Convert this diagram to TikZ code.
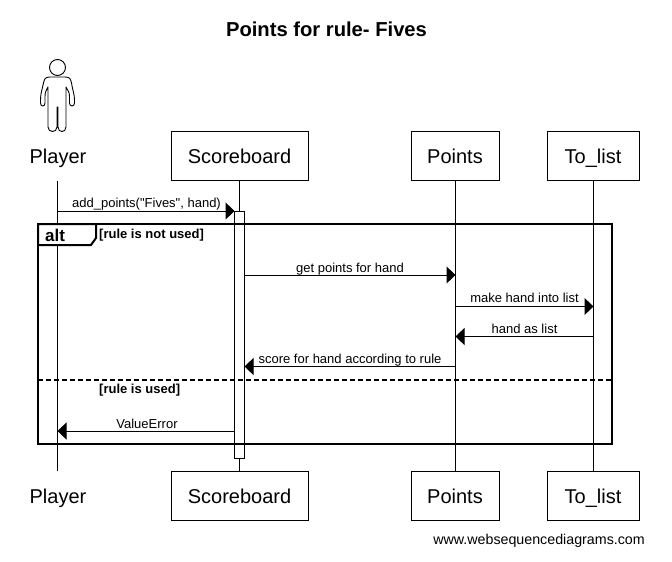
\documentclass[tikz,border=0pt]{standalone}
\usepackage{fontspec}
\setmainfont{Liberation Sans}
\newfontfamily\plainfont{Liberation Sans}
\usetikzlibrary{arrows.meta}
\tikzset{
  actorbox/.style={draw=black,line width=1pt,fill=white,minimum height=49pt,inner sep=0pt,text height=17pt,text depth=2pt,font=\fontsize{20}{24}\selectfont},
  actorname/.style={inner sep=0pt,text height=17pt,text depth=2pt,font=\fontsize{20}{24}\selectfont},
  lifeline/.style={draw=black,line width=1pt},
  msg/.style={draw=black,line width=1pt,-{Triangle[length=9pt,width=17pt]},shorten >=0pt},
  msglabel/.style={inner sep=0pt,anchor=base,font=\fontsize{13}{15}\selectfont},
  guardlabel/.style={inner sep=0pt,anchor=base west,font=\fontsize{13}{15}\selectfont\bfseries},
  activation/.style={draw=black,line width=1pt,fill=white,minimum width=10pt,inner sep=0pt},
  framebox/.style={draw=black,line width=2pt}
}
\begin{document}
\begin{tikzpicture}[x=1pt,y=-1pt]
\useasboundingbox (0,0) rectangle (672,562);
\node[inner sep=0pt,font=\fontsize{20.2}{24}\selectfont\bfseries] (title) at (326.5,29) {Points for rule- Fives};
% actors, top
\node[actorname] (pT) at (58,155.5) {Player};
\node[actorbox,minimum width=137pt] (sT) at (239.5,155.5) {Scoreboard};
\node[actorbox,minimum width=88pt] (oT) at (455,155.5) {Points};
\node[actorbox,minimum width=92pt] (lT) at (593,155.5) {To\_list};
% actors, bottom
\node[actorname] (pB) at (58,495.5) {Player};
\node[actorbox,minimum width=137pt] (sB) at (239.5,495.5) {Scoreboard};
\node[actorbox,minimum width=88pt] (oB) at (455,495.5) {Points};
\node[actorbox,minimum width=92pt] (lB) at (593,495.5) {To\_list};
% lifelines
\coordinate (pL1) at (57.5,181);
\coordinate (pL2) at (57.5,471);
\draw[lifeline] (pL1) -- (pL2);
\draw[lifeline] (sT.south) -- (sB.north);
\draw[lifeline] (oT.south) -- (oB.north);
\draw[lifeline] (lT.south) -- (lB.north);
% stick figure
\draw[black,line width=0.9pt,fill=white] (57.5,67.5) circle (8pt);
\draw[black,line width=0.9pt,line join=round]
  (50,77) .. controls (45,77) and (44.5,79) .. (43.5,83)
  .. controls (42,90) and (40.5,94) .. (40.5,100)
  -- (40.5,103) .. controls (40.5,107) and (45,107) .. (45,103)
  -- (45,96) .. controls (45,92) and (46.5,90) .. (48,87)
  -- (48,127) .. controls (48,133) and (57,133) .. (57,127)
  -- (57,107) -- (58,107) -- (58,127)
  .. controls (58,133) and (66,133) .. (66,127)
  -- (66,87) .. controls (67.5,90) and (69.5,92) .. (69.5,96)
  -- (69.5,103) .. controls (69.5,107) and (74.5,107) .. (74.5,103)
  -- (74.5,100) .. controls (74.5,94) and (72.5,90) .. (71.5,83)
  .. controls (70.5,79) and (70,77) .. (65,77) -- cycle;
% activation
\node[activation,minimum height=247pt] (act) at (239.5,334.5) {};
% alt frame
\node[inner sep=0pt,minimum width=0pt] (fA) at (38,224) {};
\node[inner sep=0pt,minimum width=0pt] (fB) at (612,444) {};
\draw[framebox] (fA.center) rectangle (fB.center);
\coordinate (tab1) at (96,224);
\coordinate (tab2) at (96,238);
\coordinate (tab3) at (91,245);
\coordinate (tab4) at (38,245);
\fill[white] (fA.center) -- (tab1) -- (tab2) -- (tab3) -- (tab4) -- cycle;
\draw[framebox,line join=miter] (tab4) -- (fA.center) -- (tab1) -- (tab2) -- (tab3) -- (tab4);
\node[inner sep=0pt,anchor=base west,font=\fontsize{17}{19}\selectfont\bfseries] (altlabel) at (45,241) {alt};
\node[guardlabel] (g1) at (99,238) {[rule is not used]};
\coordinate (divL) at (38,380);
\coordinate (divR) at (612,380);
\draw[black,line width=2pt,dash pattern=on 5pt off 3pt] (divL) -- (divR);
\node[guardlabel] (g2) at (99,393) {[rule is used]};
% messages
\coordinate (m1a) at (57.5,211); \coordinate (m1b) at (234.5,211);
\draw[msg] (m1a) -- (m1b);
\node[msglabel] (t1) at (146.5,207) {\plainfont add\_points("Fives", hand)};
\coordinate (m2a) at (244.5,275); \coordinate (m2b) at (455.5,275);
\draw[msg] (m2a) -- (m2b);
\node[msglabel] (t2) at (350,272) {get points for hand};
\coordinate (m3a) at (455.5,306.5); \coordinate (m3b) at (593.5,306.5);
\draw[msg] (m3a) -- (m3b);
\node[msglabel] (t3) at (524.5,302) {make hand into list};
\coordinate (m4a) at (593.5,336.5); \coordinate (m4b) at (455.5,336.5);
\draw[msg] (m4a) -- (m4b);
\node[msglabel] (t4) at (524.5,333) {hand as list};
\coordinate (m5a) at (455.5,366.5); \coordinate (m5b) at (244.5,366.5);
\draw[msg] (m5a) -- (m5b);
\node[msglabel] (t5) at (350,363) {score for hand according to rule};
\coordinate (m6a) at (234.5,431); \coordinate (m6b) at (57.5,431);
\draw[msg] (m6a) -- (m6b);
\node[msglabel] (t6) at (147,428) {ValueError};
\node[inner sep=0pt,anchor=base east,font=\fontsize{14.25}{16}\selectfont] (wm) at (645,544) {www.websequencediagrams.com};
\end{tikzpicture}
\end{document}
